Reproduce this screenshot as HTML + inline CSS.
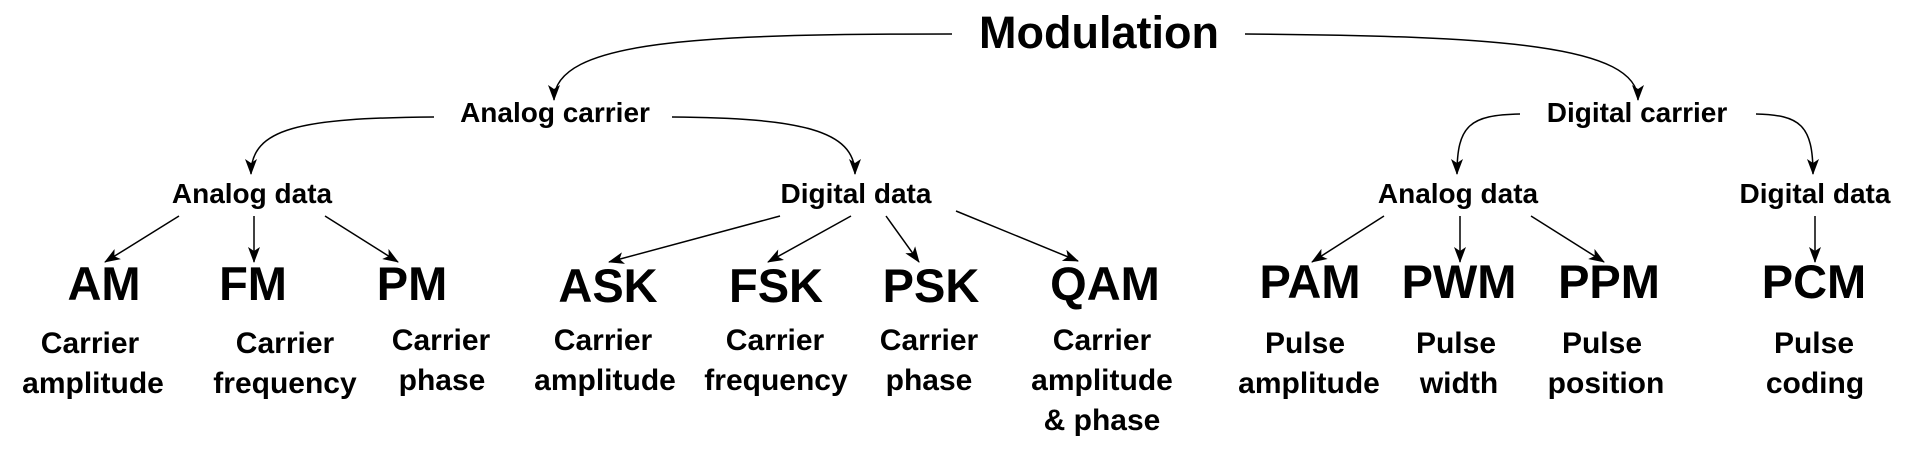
<!DOCTYPE html>
<html><head><meta charset="utf-8"><style>
html,body{margin:0;padding:0;background:#fff;}
svg{display:block;}
text{font-family:"Liberation Sans",sans-serif;font-weight:bold;fill:#000;text-anchor:middle;}
.t0{font-size:45px;}
.t1{font-size:28px;}
.t3{font-size:47px;}
.t4{font-size:30px;}
path.c{fill:none;stroke:#000;stroke-width:1.5;}
</style></head><body>
<svg width="1920" height="459" viewBox="0 0 1920 459" xmlns="http://www.w3.org/2000/svg">
<defs>
<marker id="a" viewBox="0 0 16 12" refX="15" refY="6" markerWidth="16" markerHeight="12" markerUnits="userSpaceOnUse" orient="auto">
<path d="M0,0 L16,6 L0,12 L4,6 Z" fill="#000"/>
</marker>
</defs>
<text class="t0" x="1099" y="48">Modulation</text>
<text class="t1" x="555" y="122">Analog carrier</text>
<text class="t1" x="1637" y="122">Digital carrier</text>
<text class="t1" x="252" y="203">Analog data</text>
<text class="t1" x="856" y="203">Digital data</text>
<text class="t1" x="1458" y="203">Analog data</text>
<text class="t1" x="1815" y="203">Digital data</text>

<path class="c" marker-end="url(#a)" d="M952,34 C700,34 554,40 554,100"/>
<path class="c" marker-end="url(#a)" d="M1245,34 C1500,36 1638,45 1638,100"/>
<path class="c" marker-end="url(#a)" d="M434,117 C300,118 251,128 251,174"/>
<path class="c" marker-end="url(#a)" d="M672,117 C800,118 855,130 855,174"/>
<path class="c" marker-end="url(#a)" d="M1520,114 C1470,115 1457,125 1457,174"/>
<path class="c" marker-end="url(#a)" d="M1756,114 C1800,115 1813,125 1813,174"/>

<path class="c" marker-end="url(#a)" d="M179,216 L105,262"/>
<path class="c" marker-end="url(#a)" d="M254,216 L254,262"/>
<path class="c" marker-end="url(#a)" d="M325,216 L398,262"/>
<path class="c" marker-end="url(#a)" d="M780,216 L609,262"/>
<path class="c" marker-end="url(#a)" d="M851,216 L768,262"/>
<path class="c" marker-end="url(#a)" d="M886,216 L919,262"/>
<path class="c" marker-end="url(#a)" d="M956,211 L1078,261"/>
<path class="c" marker-end="url(#a)" d="M1384,216 L1312,262"/>
<path class="c" marker-end="url(#a)" d="M1460,216 L1460,262"/>
<path class="c" marker-end="url(#a)" d="M1531,216 L1604,262"/>
<path class="c" marker-end="url(#a)" d="M1815,216 L1815,262"/>

<text class="t3" x="104" y="300">AM</text>
<text class="t3" x="253" y="300">FM</text>
<text class="t3" x="412" y="300">PM</text>
<text class="t3" x="608" y="302">ASK</text>
<text class="t3" x="776" y="302">FSK</text>
<text class="t3" x="931" y="302">PSK</text>
<text class="t3" x="1105" y="300">QAM</text>
<text class="t3" x="1310" y="298">PAM</text>
<text class="t3" x="1459" y="298">PWM</text>
<text class="t3" x="1609" y="298">PPM</text>
<text class="t3" x="1814" y="298">PCM</text>

<text class="t4" x="90" y="353">Carrier</text><text class="t4" x="93" y="393">amplitude</text>
<text class="t4" x="285" y="353">Carrier</text><text class="t4" x="285" y="393">frequency</text>
<text class="t4" x="441" y="350">Carrier</text><text class="t4" x="442" y="390">phase</text>
<text class="t4" x="603" y="350">Carrier</text><text class="t4" x="605" y="390">amplitude</text>
<text class="t4" x="775" y="350">Carrier</text><text class="t4" x="776" y="390">frequency</text>
<text class="t4" x="929" y="350">Carrier</text><text class="t4" x="929" y="390">phase</text>
<text class="t4" x="1102" y="350">Carrier</text><text class="t4" x="1102" y="390">amplitude</text><text class="t4" x="1102" y="430">&amp; phase</text>
<text class="t4" x="1305" y="353">Pulse</text><text class="t4" x="1309" y="393">amplitude</text>
<text class="t4" x="1456" y="353">Pulse</text><text class="t4" x="1459" y="393">width</text>
<text class="t4" x="1602" y="353">Pulse</text><text class="t4" x="1606" y="393">position</text>
<text class="t4" x="1814" y="353">Pulse</text><text class="t4" x="1815" y="393">coding</text>
</svg>
</body></html>
